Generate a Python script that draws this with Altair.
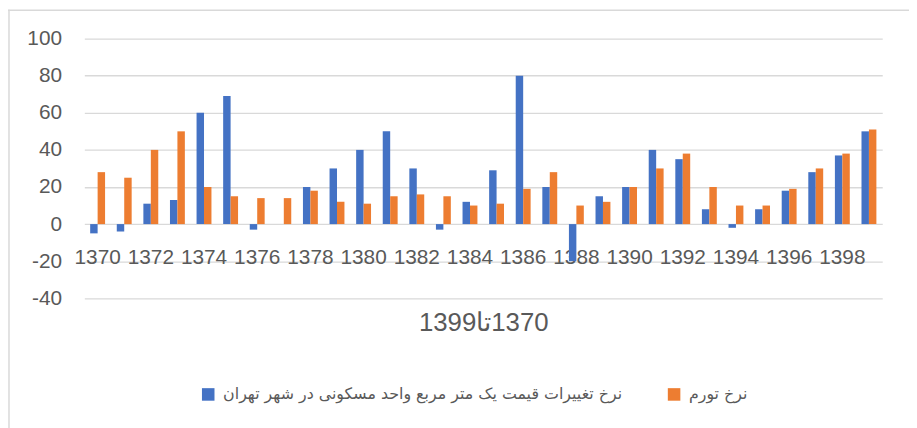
import altair as alt
import pandas as pd

years = [1370, 1371, 1372, 1373, 1374, 1375, 1376, 1377, 1378, 1379,
         1380, 1381, 1382, 1383, 1384, 1385, 1386, 1387, 1388, 1389,
         1390, 1391, 1392, 1393, 1394, 1395, 1396, 1397, 1398, 1399]
label_years = [1370, 1372, 1374, 1376, 1378, 1380, 1382, 1384, 1386, 1388,
               1390, 1392, 1394, 1396, 1398]
housing = [-5, -4, 11, 13, 60, 69, -3, 0, 20, 30,
           40, 50, 30, -3, 12, 29, 80, 20, -20, 15,
           20, 40, 35, 8, -2, 8, 18, 28, 37, 50]
inflation = [28, 25, 40, 50, 20, 15, 14, 14, 18, 12,
             11, 15, 16, 15, 10, 11, 19, 28, 10, 12,
             20, 30, 38, 20, 10, 10, 19, 30, 38, 51]
y_ticks = [-40, -20, 0, 20, 40, 60, 80, 100]

series_housing = "نرخ تغییرات قیمت یک متر مربع واحد مسکونی در شهر تهران"
series_inflation = "نرخ تورم"
series_order = [series_housing, series_inflation]
colors = ["#4472C4", "#ED7D31"]
x_title = "\u202B1370تا1399\u202C"

rows = []
for yr, h, inf in zip(years, housing, inflation):
    rows.append({"year": yr, "series": series_housing, "value": h})
    rows.append({"year": yr, "series": series_inflation, "value": inf})
df = pd.DataFrame(rows)

TXT = "#595959"
GRID = "#D9D9D9"
NUMFONT = "Liberation Sans"

bars = alt.Chart(df).mark_bar().encode(
    x=alt.X(
        "year:O",
        scale=alt.Scale(paddingInner=0.44, paddingOuter=0.22),
        axis=alt.Axis(
            values=label_years, labelAngle=0, domain=False, ticks=False, tickSize=0,
            offset=-75, labelPadding=23, labelFontSize=21, labelColor=TXT,
            labelFont=NUMFONT, labelOverlap=False, grid=False,
            title=x_title, titleX=402.5, titleY=108, titleBaseline="alphabetic",
            titleAlign="center", titleFontSize=26, titleFontWeight="normal",
            titleColor=TXT, titleFont=NUMFONT,
        ),
    ),
    xOffset=alt.XOffset(
        "series:N", sort=series_order,
        scale=alt.Scale(domain=series_order, paddingInner=0, paddingOuter=0),
    ),
    y=alt.Y(
        "value:Q",
        scale=alt.Scale(domain=[-40, 100], nice=False, zero=False),
        axis=alt.Axis(
            values=y_ticks, title=None, domain=False, ticks=False, tickSize=0,
            labelExpr="'' + datum.value",
            labelPadding=23, labelFontSize=21, labelColor=TXT, labelFont=NUMFONT,
            gridColor=GRID, gridWidth=1.3,
        ),
    ),
    color=alt.Color(
        "series:N",
        scale=alt.Scale(domain=series_order, range=colors),
        legend=alt.Legend(
            orient="none", legendX=117, legendY=351, direction="horizontal",
            title=None, symbolType="square", symbolSize=160, symbolStrokeWidth=0,
            labelFontSize=16, labelFont="DejaVu Sans", labelColor=TXT,
            columnPadding=44, labelOffset=7, padding=0, labelLimit=0,
        ),
    ),
)

one = pd.DataFrame({"k": [0]})
top_border = alt.Chart(one).mark_rule(color=GRID, strokeWidth=1.5).encode(
    x=alt.value(-77), x2=alt.value(840), y=alt.value(-28.5)
)
left_border = alt.Chart(one).mark_rule(color=GRID, strokeWidth=1.5).encode(
    x=alt.value(-76), y=alt.value(-29), y2=alt.value(395)
)

chart = alt.layer(bars, top_border, left_border).properties(
    width=805,
    height=262,
    padding={"left": 77, "top": 29, "right": 27, "bottom": 129},
    autosize=alt.AutoSizeParams(type="none"),
).configure_view(stroke=None)

chart.save("out.html", embed_options={"renderer": "svg", "actions": False})
